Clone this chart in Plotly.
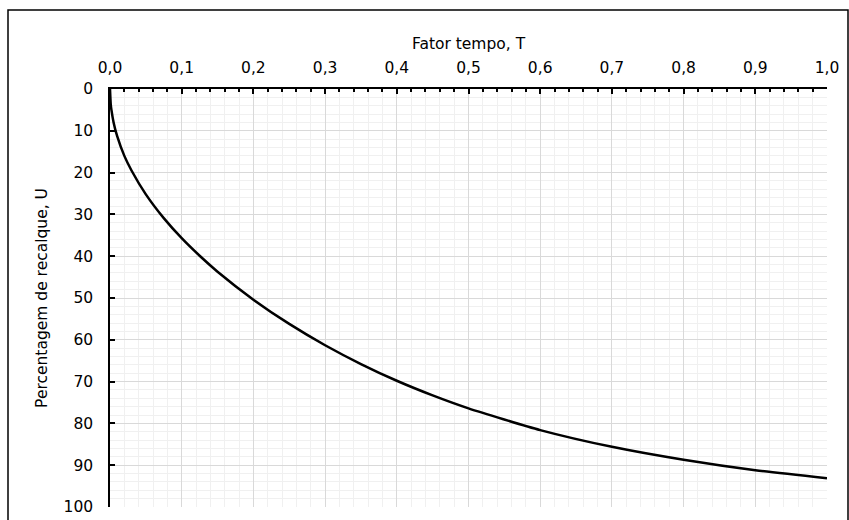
import plotly.graph_objects as go

# Fator tempo T and percentagem de recalque U
T_vals = [0.0, 0.001, 0.002, 0.005, 0.01, 0.02, 0.03, 0.05, 0.075, 0.1, 0.125, 0.15, 0.2,
          0.25, 0.3, 0.35, 0.4, 0.45, 0.5, 0.6, 0.7, 0.8, 0.9, 1.0]
U_vals = [0.0, 3.6, 5.0, 8.0, 11.3, 16.0, 19.5, 25.2, 30.9, 35.7, 39.9, 43.7, 50.4,
          56.2, 61.3, 65.8, 69.8, 73.3, 76.4, 81.6, 85.6, 88.7, 91.2, 93.1]

x_ticks = [0.0, 0.1, 0.2, 0.3, 0.4, 0.5, 0.6, 0.7, 0.8, 0.9, 1.0]
y_ticks = [0, 10, 20, 30, 40, 50, 60, 70, 80, 90, 100]

FONT = "DejaVu Sans, Liberation Sans, Arial, sans-serif"
FS = 15.5

fig = go.Figure()
fig.add_trace(go.Scatter(
    x=T_vals, y=U_vals, mode="lines",
    line=dict(color="black", width=2.5, shape="spline", smoothing=0.6),
    showlegend=False, hoverinfo="skip"))

fig.update_layout(
    width=849, height=520,
    margin=dict(l=110, r=22, t=89, b=13),
    paper_bgcolor="white", plot_bgcolor="white",
    separators=", ",
    font=dict(family=FONT, size=FS, color="#000000"),
    xaxis=dict(
        side="top", range=[0, 1], tickvals=x_ticks, tickformat=".1f",
        automargin=False,
        ticks="inside", ticklen=5, tickwidth=1.5, tickcolor="black",
        showline=True, linecolor="black", linewidth=1.5,
        showgrid=True, gridcolor="#d9d9d9", gridwidth=1,
        zeroline=False,
        minor=dict(dtick=0.02, ticks="inside", ticklen=3, tickcolor="black",
                   showgrid=True, gridcolor="#f0f0f0", gridwidth=1),
        title=dict(text="Fator tempo, T", standoff=6, font=dict(size=FS)),
        tickfont=dict(size=FS), ticklabelstandoff=8,
    ),
    yaxis=dict(
        range=[100, 0], tickvals=y_ticks,
        automargin=False,
        ticks="inside", ticklen=5, tickwidth=1.5, tickcolor="black",
        showline=True, linecolor="black", linewidth=1.5,
        showgrid=True, gridcolor="#d9d9d9", gridwidth=1,
        zeroline=False,
        minor=dict(dtick=2, showgrid=True, gridcolor="#f0f0f0", gridwidth=1),
        title=dict(text="Percentagem de recalque, U", standoff=12, font=dict(size=FS)),
        tickfont=dict(size=FS), ticklabelstandoff=12,
    ),
    shapes=[dict(type="rect", xref="paper", yref="paper",
                 x0=(8 - 110) / 717, x1=(848 - 110) / 717,
                 y0=-0.2, y1=(507 - 10) / 418,
                 line=dict(color="black", width=1.5), fillcolor="rgba(0,0,0,0)",
                 layer="above")],
)

fig.write_html("out.html")
